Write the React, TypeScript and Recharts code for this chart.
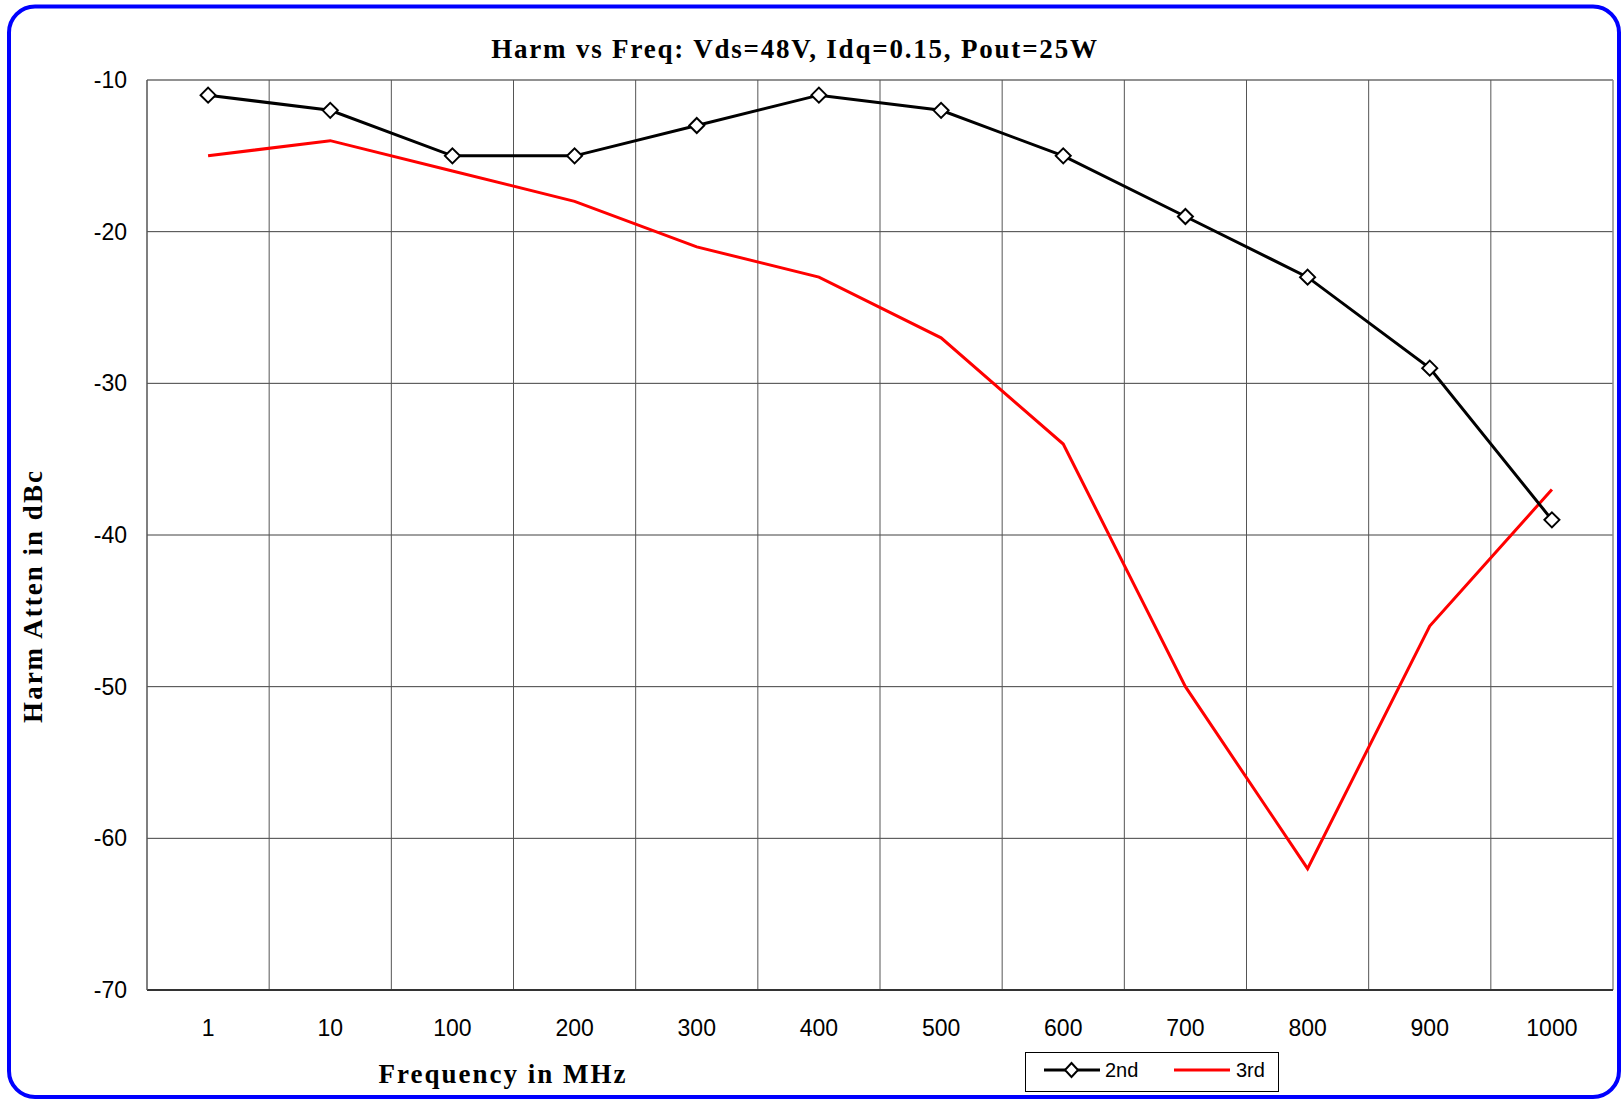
import { CartesianGrid, Legend, Line, LineChart, ReferenceLine, XAxis, YAxis } from "recharts";

const freqLabels = ["1", "10", "100", "200", "300", "400", "500", "600", "700", "800", "900", "1000"];
const harm2nd = [-11, -12, -15, -15, -13, -11, -12, -15, -19, -23, -29, -39];
const harm3rd = [-15, -14, -16, -18, -21, -23, -27, -34, -50, -62, -46, -37];
const yTicks = [-10, -20, -30, -40, -50, -60, -70];

// each category sits in the middle of its own band, grid lines fall on band edges
const data = freqLabels.map((label, i) => ({ pos: i + 0.5, label, h2: harm2nd[i], h3: harm3rd[i] }));
const tickPositions = data.map((d) => d.pos);
const bandEdges = freqLabels.slice(1).map((_, i) => i + 1);

const SANS = "'Liberation Sans', Arial, sans-serif";
const SERIF = "'Liberation Serif', 'Times New Roman', serif";

function Diamond(props: any) {
  const { cx, cy, index } = props;
  if (cx == null || cy == null) return <g key={index} />;
  const r = 7.5;
  return (
    <path
      key={index}
      d={`M${cx},${cy - r}L${cx + r},${cy}L${cx},${cy + r}L${cx - r},${cy}Z`}
      fill="#fff"
      stroke="#000"
      strokeWidth={2}
    />
  );
}

function LegendBox() {
  return (
    <svg width={254} height={40} style={{ display: "block" }}>
      <rect x={0.5} y={0.5} width={253} height={39} fill="#fff" stroke="#000" strokeWidth={1} />
      <line x1={19} y1={18} x2={75} y2={18} stroke="#000" strokeWidth={3} />
      <path d="M46.5,11L53,18L46.5,25L40,18Z" fill="#fff" stroke="#000" strokeWidth={2} />
      <text x={80} y={25} fontFamily={SANS} fontSize={20} fill="#000">
        2nd
      </text>
      <line x1={149} y1={18} x2={205} y2={18} stroke="#FF0000" strokeWidth={3} />
      <text x={211} y={25} fontFamily={SANS} fontSize={20} fill="#000">
        3rd
      </text>
    </svg>
  );
}

export default function App() {
  return (
    <div style={{ position: "absolute", left: 0, top: 0, width: 1623, height: 1099, background: "#fff" }}>
      <LineChart width={1623} height={1099} data={data} margin={{ top: 80, right: 10, bottom: 0, left: 0 }}>
        <CartesianGrid vertical={false} stroke="#404040" strokeWidth={1} />
        <XAxis
          dataKey="pos"
          type="number"
          domain={[0, 12]}
          ticks={tickPositions}
          tickFormatter={(v: number) => freqLabels[Math.floor(v)]}
          height={109}
          tickLine={false}
          tickMargin={24}
          axisLine={{ stroke: "#333", strokeWidth: 2 }}
          tick={{ fontFamily: SANS, fontSize: 23, fill: "#000" }}
          allowDataOverflow
        />
        <YAxis
          type="number"
          domain={[-70, -10]}
          ticks={yTicks}
          width={147}
          tickLine={false}
          tickMargin={14}
          axisLine={{ stroke: "#555", strokeWidth: 1.5 }}
          tick={{ fontFamily: SANS, fontSize: 23, fill: "#000" }}
          allowDataOverflow
        />
        <ReferenceLine y={-10} stroke="#8c8c8c" strokeWidth={1.5} />
        {bandEdges.map((x) => (
          <ReferenceLine key={x} x={x} stroke="#555" strokeWidth={1} />
        ))}
        <ReferenceLine x={12} stroke="#8c8c8c" strokeWidth={1.5} />
        <Legend
          verticalAlign="middle"
          layout="horizontal"
          wrapperStyle={{ left: 1025, top: 1052, width: 254, height: 40 }}
          content={() => <LegendBox />}
        />
        <Line
          type="linear"
          dataKey="h3"
          name="3rd"
          stroke="#FF0000"
          strokeWidth={3}
          dot={false}
          activeDot={false}
          isAnimationActive={false}
        />
        <Line
          type="linear"
          dataKey="h2"
          name="2nd"
          stroke="#000"
          strokeWidth={3}
          dot={<Diamond />}
          activeDot={false}
          isAnimationActive={false}
        />
      </LineChart>
      <svg
        width={1623}
        height={1099}
        style={{ position: "absolute", left: 0, top: 0, pointerEvents: "none" }}
      >
        <rect x={9} y={6.5} width={1610} height={1090.5} rx={26} fill="none" stroke="#0000FF" strokeWidth={4} />
        <text x={795} y={58} textAnchor="middle" fontFamily={SERIF} fontWeight="bold" fontSize={27} letterSpacing={1.8}>
          Harm vs Freq: Vds=48V, Idq=0.15, Pout=25W
        </text>
        <text x={503} y={1083} textAnchor="middle" fontFamily={SERIF} fontWeight="bold" fontSize={27} letterSpacing={2}>
          Frequency in MHz
        </text>
        <text
          transform="translate(42,596) rotate(-90)"
          textAnchor="middle"
          fontFamily={SERIF}
          fontWeight="bold"
          fontSize={27}
          letterSpacing={2}
        >
          Harm Atten in dBc
        </text>
      </svg>
    </div>
  );
}
